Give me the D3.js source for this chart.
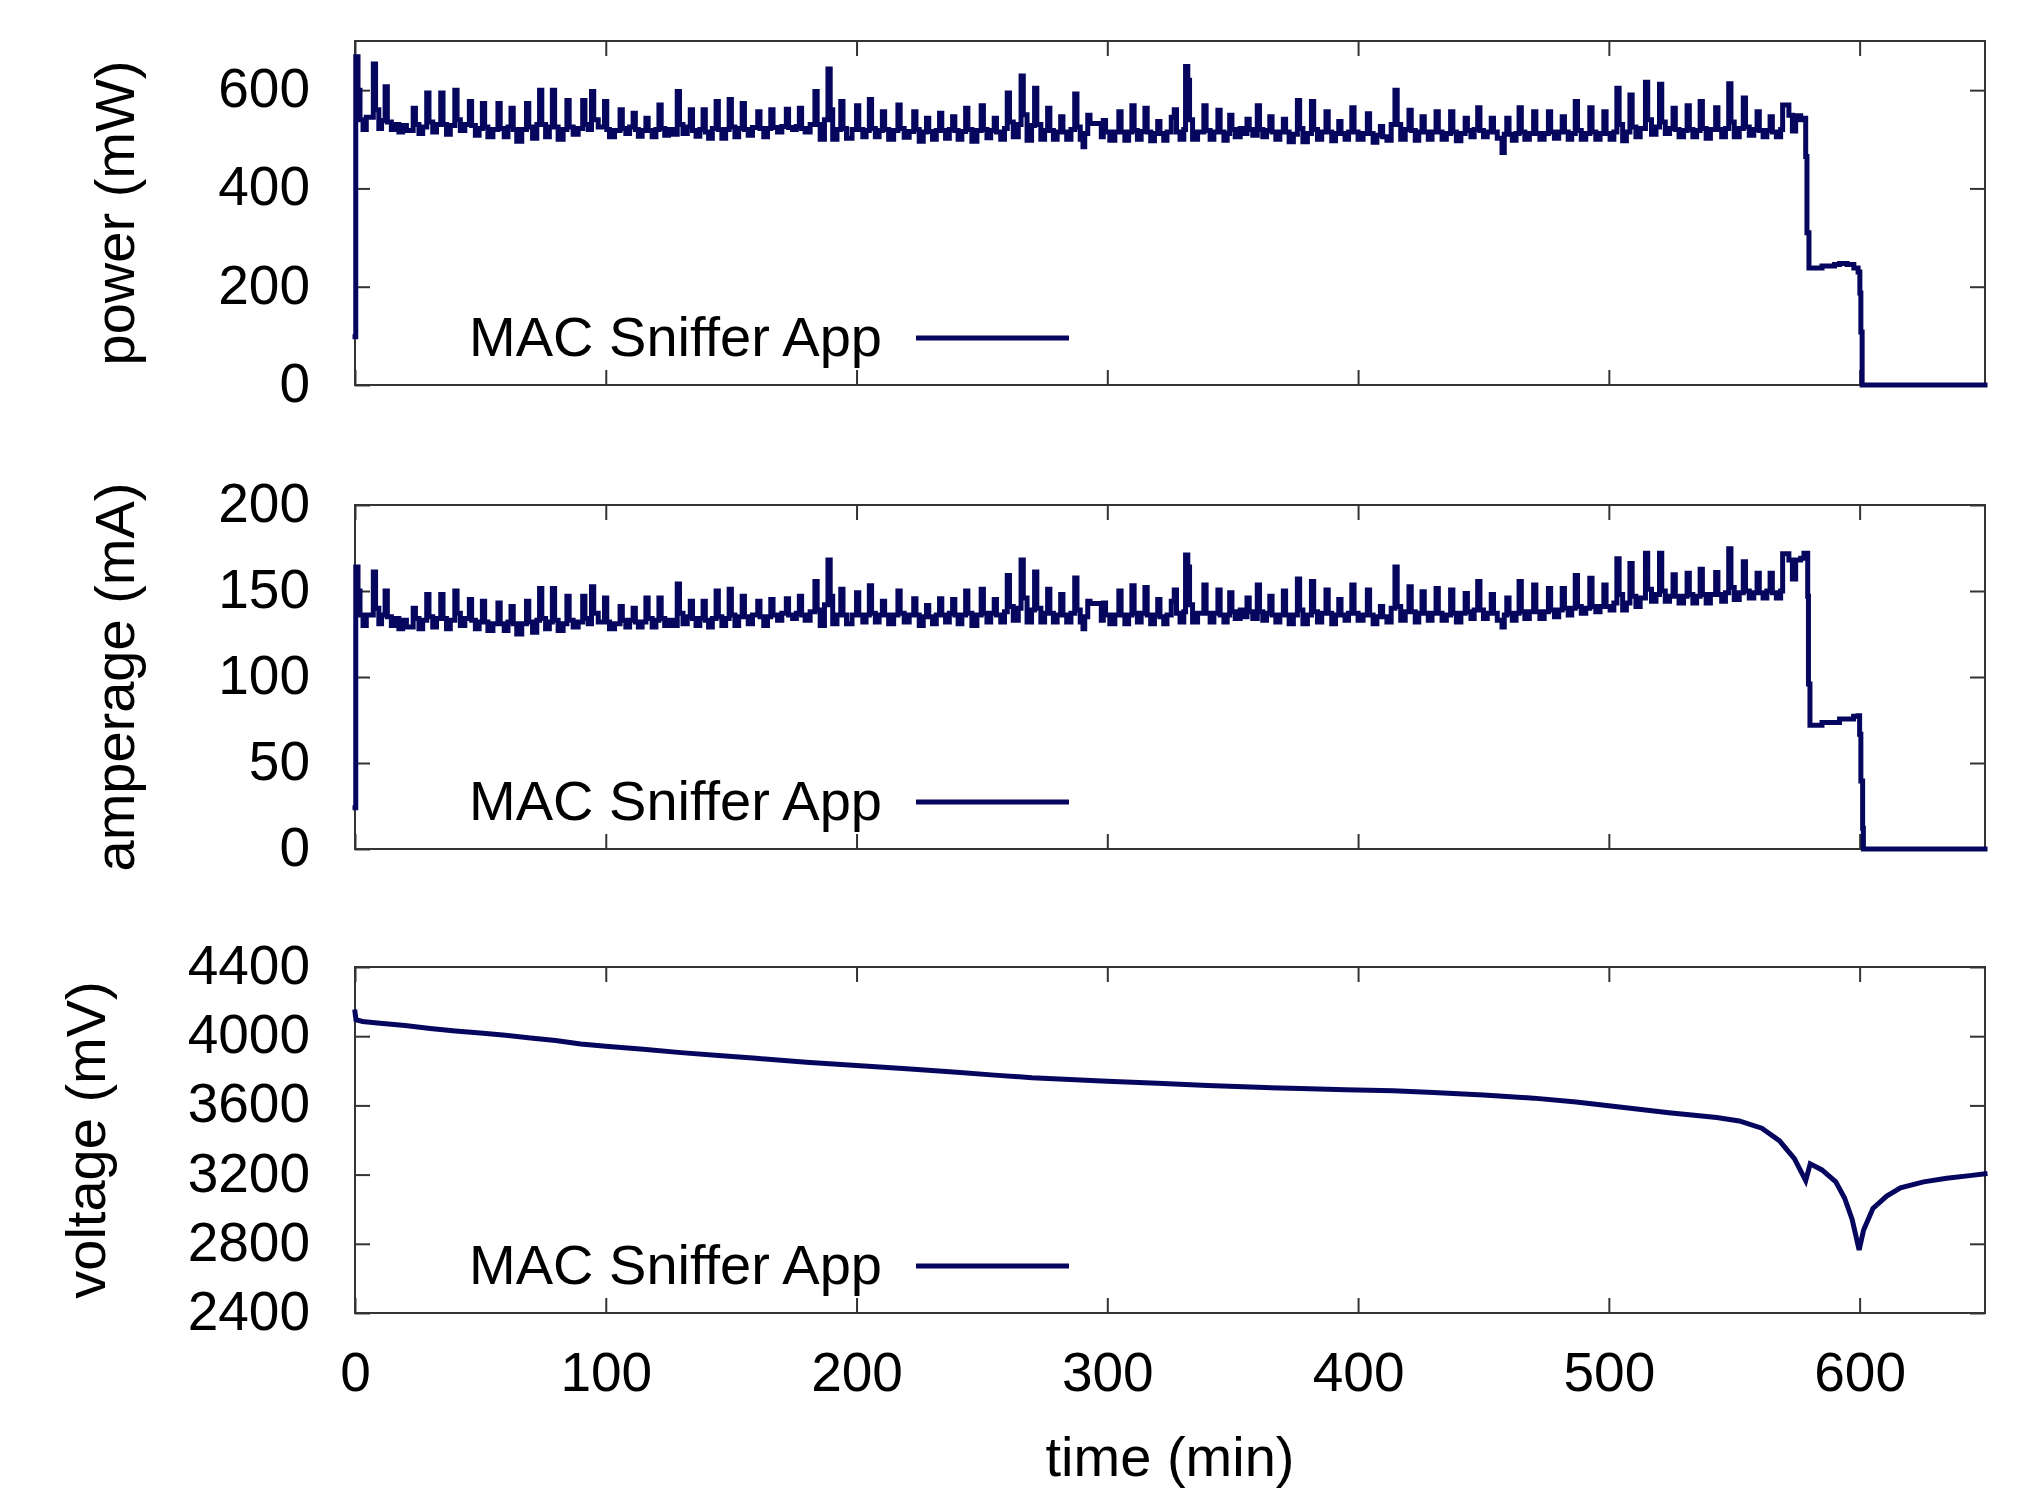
<!DOCTYPE html>
<html>
<head>
<meta charset="utf-8">
<script src="https://cdn.jsdelivr.net/npm/d3@7"></script>
<style>
  body { margin: 0; background: #fff; }
  text { font-family: "Liberation Sans", Arial, Helvetica, sans-serif; }
</style>
</head>
<body>
<div id="chart"></div>
<script>
// Data: [time (min), value]
const seriesName = "MAC Sniffer App";

const timeTicks = [0, 100, 200, 300, 400, 500, 600];
const powerTicks = [0, 200, 400, 600];
const ampTicks = [0, 50, 100, 150, 200];
const voltTicks = [2400, 2800, 3200, 3600, 4000, 4400];

const power = [
  [0, 98], [0.3, 668], [1.2, 600], [2.0, 540], [3.2, 520], [4.5, 545],
  [7.3, 653], [8.2, 560], [9.5, 522], [10.6, 538],
  [12.0, 607], [12.9, 535], [14.5, 520], [16, 530], [17.5, 515], [19, 528], [20.5, 518],
  [23.2, 563], [24.1, 530], [25.5, 512], [27, 525],
  [28.6, 594], [29.5, 535], [31, 515], [32.5, 530],
  [34.2, 594], [35.1, 530], [36.5, 510], [38, 528],
  [39.8, 600], [40.7, 540], [42, 518], [43.8, 530],
  [45.6, 577], [46.5, 528], [48, 508], [49.5, 522],
  [50.8, 573], [51.7, 525], [53, 505], [55, 520],
  [57.0, 573], [57.9, 522], [59.5, 505], [61, 525],
  [62.2, 563], [63.1, 520], [64.5, 496], [66.5, 520],
  [68.4, 573], [69.3, 525], [70.8, 502], [72.5, 530],
  [73.6, 600], [74.5, 530], [76, 505], [77.5, 525],
  [78.7, 600], [79.6, 525], [81, 500], [83, 520],
  [84.5, 579], [85.4, 525], [87, 510], [89, 522],
  [90.8, 579], [91.7, 530], [93, 520],
  [94.3, 597], [95.2, 540], [97, 525],
  [99.5, 577], [100.4, 520], [101.5, 505], [103.5, 518],
  [105.7, 560], [106.6, 522], [108, 512], [109.5, 525],
  [110.9, 553], [111.8, 520], [113, 506], [114.5, 518],
  [116, 543], [116.9, 518], [118.5, 505], [120, 520],
  [121.2, 570], [122.1, 522], [123.5, 508], [125, 520], [126.8, 510],
  [128.5, 597], [129.4, 530], [130.8, 512], [132.5, 525],
  [133.7, 560], [134.6, 518], [136, 506], [137.5, 520],
  [138.8, 560], [139.7, 515], [141, 502], [142.5, 522],
  [144, 577], [144.9, 520], [146.3, 502], [147.8, 520],
  [149.2, 581], [150.1, 525], [151.5, 505], [153, 522],
  [154.4, 573], [155.3, 520], [156.8, 508], [158.5, 524],
  [160.6, 556], [161.5, 522], [163, 505], [164.5, 522],
  [165.8, 560], [166.7, 524], [168.5, 515], [170.2, 526],
  [172, 561], [172.9, 524], [174.5, 520], [176, 526],
  [177.2, 563], [178.1, 522], [179.5, 515], [181.5, 530],
  [183.4, 597], [184.3, 530], [185.5, 500], [187.2, 540],
  [188.6, 643], [189.5, 560], [190.5, 500], [192.2, 520],
  [193.7, 577], [194.6, 522], [196, 502], [198.2, 520],
  [200, 568], [200.9, 520], [202.5, 505], [203.8, 518],
  [205.1, 581], [206, 522], [207.5, 505], [209, 518],
  [210.3, 556], [211.2, 520], [212.8, 500], [214.8, 518],
  [216.5, 570], [217.4, 522], [219, 504], [221, 516],
  [222.8, 556], [223.7, 520], [225, 496], [226.6, 515],
  [227.9, 543], [228.8, 516], [230.3, 500], [231.8, 518],
  [233.1, 553], [234, 518], [235.5, 502], [237, 520],
  [238.3, 546], [239.2, 518], [240.5, 500], [242, 516],
  [243.5, 563], [244.4, 520], [246, 496], [248, 518],
  [249.7, 568], [250.6, 520], [252, 503], [253.5, 518],
  [254.9, 543], [255.8, 515], [257.5, 500], [259, 522],
  [260.1, 594], [261, 535], [262.5, 505], [264.5, 530],
  [265.6, 629], [266.5, 550], [268, 498], [269.8, 528],
  [271, 604], [271.9, 530], [273.5, 500], [275, 518],
  [276.2, 563], [277.1, 518], [278.5, 500], [280, 515],
  [281.4, 546], [282.3, 515], [283.8, 500], [285.5, 520],
  [287, 592], [287.9, 525], [289.2, 500], [290.3, 485], [291, 512],
  [292.2, 549], [293.1, 532], [297.6, 505], [298.4, 538], [299.3, 515], [301, 498], [303, 515],
  [304.6, 556], [305.5, 515], [307, 498], [308.5, 515],
  [309.8, 568], [310.7, 518], [312, 500], [313.5, 516],
  [315, 563], [315.9, 515], [317.3, 497], [318.8, 512],
  [320.1, 536], [321, 512], [322.5, 498], [323.8, 515],
  [325.5, 545], [326.7, 560], [327.6, 515], [329, 500], [330.5, 520],
  [331.2, 648], [332.1, 620], [332.8, 540], [334, 500], [336, 515],
  [338.5, 568], [339.4, 518], [341, 500], [342.5, 515],
  [344.1, 559], [345, 515], [346.5, 498], [347.8, 512],
  [348.8, 549], [349.7, 520], [351, 505], [353, 522], [354.5, 512],
  [355.7, 541], [356.6, 520], [358, 508],
  [359.8, 568], [360.7, 520], [362, 505], [363.5, 518],
  [364.8, 546], [365.7, 515], [367.2, 500], [368.8, 515],
  [370.2, 541], [371.1, 515], [372.5, 495], [374.2, 510],
  [375.8, 579], [376.7, 522], [378, 495], [379.8, 512],
  [381.4, 577], [382.3, 520], [383.8, 500], [385.5, 515],
  [387.2, 556], [388.1, 515], [389.5, 497], [391, 512],
  [392.3, 536], [393.2, 512], [394.8, 500], [396.2, 515],
  [397.5, 564], [398.4, 515], [400, 500], [402, 512],
  [403.7, 552], [404.6, 512], [406, 494], [407.5, 508],
  [408.9, 526], [409.8, 505], [411.5, 498], [413.2, 530],
  [414.7, 600], [415.6, 530], [417, 500], [418.8, 520],
  [420.3, 559], [421.2, 518], [422.8, 498], [424.2, 515],
  [425.5, 546], [426.4, 515], [428, 500], [429.5, 515],
  [431.1, 556], [432, 515], [433.5, 500], [435.2, 512],
  [436.9, 556], [437.8, 515], [439.2, 497], [441, 512],
  [442.7, 543], [443.6, 518], [445, 505], [446.3, 520],
  [447.7, 564], [448.6, 518], [450, 505], [451.5, 515],
  [453.1, 543], [454, 515], [455.5, 502], [457.4, 473], [458.3, 510], [459.3, 543], [460.2, 510], [461.5, 498], [463, 512],
  [464.2, 564], [465.1, 515], [466.5, 500], [468.3, 512],
  [470, 556], [470.9, 512], [472.5, 500], [474.2, 512],
  [475.9, 556], [476.8, 515], [478.3, 502], [480, 515],
  [481.4, 546], [482.3, 515], [483.8, 500], [485.2, 512],
  [486.6, 577], [487.5, 518], [489, 500], [490.8, 512],
  [492.4, 564], [493.3, 515], [494.8, 500], [496.5, 512],
  [498, 556], [498.9, 512], [500.5, 500], [502, 515],
  [503.2, 604], [504.1, 530], [505.5, 497], [507, 515],
  [508.4, 590], [509.3, 525], [510.8, 505], [512.5, 522],
  [514.6, 616], [515.5, 540], [517, 510], [518.8, 525],
  [520.2, 612], [521.1, 535], [522.5, 512], [524.2, 522],
  [525.6, 563], [526.5, 520], [528, 505], [529.8, 518],
  [531.2, 568], [532.1, 520], [533.5, 505], [535, 518],
  [536.4, 577], [537.3, 522], [538.8, 502], [540.5, 520],
  [542.6, 564], [543.5, 520], [545, 505], [546.5, 522],
  [547.8, 613], [548.7, 535], [550, 505], [552, 522],
  [553.6, 584], [554.5, 525], [556, 508], [557.8, 520],
  [559.1, 556], [560, 518], [561.5, 505], [563, 518],
  [564.3, 546], [565.2, 515], [566.8, 505], [568.5, 520],
  [569.3, 570], [571.8, 549], [573.2, 517], [574.5, 548], [576.5, 540], [577.8, 543],
  [578.5, 465], [579.0, 310], [579.8, 238], [585, 242], [590, 245], [592, 247],
  [595, 245], [597.7, 238], [599.4, 230], [600.1, 187], [600.5, 108], [601.0, 0], [650, 0]
];

const amperage = [
  [0, 24], [0.3, 164], [1.2, 150], [2.0, 136], [3.2, 130], [4.5, 136],
  [7.3, 161], [8.2, 140], [9.5, 131], [10.6, 136],
  [12.0, 150], [12.9, 135], [14.5, 130], [16, 134], [17.5, 128], [19, 133], [20.5, 129],
  [23.2, 140], [24.1, 134], [25.5, 128], [27, 133],
  [28.6, 148], [29.5, 135], [31, 129], [32.5, 134],
  [34.2, 148], [35.1, 134], [36.5, 128], [38, 133],
  [39.8, 150], [40.7, 137], [42, 130], [43.8, 134],
  [45.6, 145], [46.5, 133], [48, 128], [49.5, 132],
  [50.8, 144], [51.7, 132], [53, 127], [55, 131],
  [57.0, 143], [57.9, 131], [59.5, 127], [61, 132],
  [62.2, 141], [63.1, 131], [64.5, 125], [66.5, 131],
  [68.4, 144], [69.3, 132], [70.8, 126], [72.5, 133],
  [73.6, 151.5], [74.5, 134], [76, 128], [77.5, 132],
  [78.7, 151.5], [79.6, 133], [81, 127], [83, 131],
  [84.5, 147], [85.4, 133], [87, 129], [89, 132],
  [90.8, 147], [91.7, 134], [93, 131],
  [94.3, 152.5], [95.2, 137], [97, 132],
  [99.5, 146], [100.4, 132], [101.5, 128], [103.5, 131],
  [105.7, 141], [106.6, 133], [108, 129], [109.5, 133],
  [110.9, 140], [111.8, 132], [113, 129], [114.5, 132],
  [116, 146], [116.9, 134], [118.5, 129], [120, 133],
  [121.2, 146], [122.1, 134], [123.5, 130], [125, 133], [126.8, 130],
  [128.5, 154], [129.4, 137], [130.8, 131], [132.5, 135],
  [133.7, 144], [134.6, 134], [136, 130], [137.5, 134],
  [138.8, 144], [139.7, 133], [141, 129], [142.5, 134],
  [144, 150], [144.9, 135], [146.3, 130], [147.8, 134],
  [149.2, 151], [150.1, 136], [151.5, 130], [153, 135],
  [154.4, 147], [155.3, 135], [156.8, 131], [158.5, 136],
  [160.6, 144], [161.5, 135], [163, 130], [164.5, 135],
  [165.8, 145], [166.7, 136], [168.5, 133], [170.2, 137],
  [172, 145.5], [172.9, 136], [174.5, 134], [176, 137],
  [177.2, 147], [178.1, 136], [179.5, 133], [181.5, 138],
  [183.4, 155.5], [184.3, 139], [185.5, 130], [187.2, 142],
  [188.6, 168], [189.5, 147], [190.5, 131], [192.2, 136],
  [193.7, 151], [194.6, 136], [196, 131], [198.2, 136],
  [200, 149], [200.9, 136], [202.5, 132], [203.8, 136],
  [205.1, 153], [206, 137], [207.5, 132], [209, 136],
  [210.3, 144], [211.2, 136], [212.8, 131], [214.8, 136],
  [216.5, 150], [217.4, 137], [219, 132], [221, 136],
  [222.8, 145.5], [223.7, 136], [225, 130], [226.6, 135],
  [227.9, 141.5], [228.8, 135], [230.3, 131], [231.8, 136],
  [233.1, 145.5], [234, 136], [235.5, 132], [237, 137],
  [238.3, 145], [239.2, 136], [240.5, 131], [242, 136],
  [243.5, 150], [244.4, 137], [246, 130], [248, 136],
  [249.7, 151], [250.6, 137], [252, 132], [253.5, 137],
  [254.9, 145], [255.8, 136], [257.5, 132], [259, 138],
  [260.1, 159], [261, 141], [262.5, 133], [264.5, 140],
  [265.6, 168], [266.5, 146], [268, 132], [269.8, 139],
  [271, 161], [271.9, 140], [273.5, 132], [275, 137],
  [276.2, 151], [277.1, 137], [278.5, 132], [280, 136],
  [281.4, 148], [282.3, 136], [283.8, 132], [285.5, 137],
  [287, 157.5], [287.9, 139], [289.2, 132], [290.3, 128], [291, 135],
  [292.2, 144], [293.1, 142.8], [297.6, 133], [298.4, 143], [299.3, 136], [301, 131], [303, 136],
  [304.6, 150], [305.5, 136], [307, 131], [308.5, 136],
  [309.8, 153], [310.7, 137], [312, 132], [313.5, 137],
  [315, 152], [315.9, 136], [317.3, 131], [318.8, 136],
  [320.1, 145], [321, 135], [322.5, 131], [323.8, 136],
  [325.5, 144], [326.7, 150.6], [327.6, 137], [329, 132], [330.5, 138],
  [331.2, 171], [332.1, 164], [332.8, 142], [334, 132], [336, 137],
  [338.5, 153.5], [339.4, 137], [341, 132], [342.5, 137],
  [344.1, 150.6], [345, 136], [346.5, 132], [347.8, 136],
  [348.8, 149], [349.7, 138], [351, 134], [353, 139], [354.5, 135],
  [355.7, 146], [356.6, 138], [358, 134],
  [359.8, 153.5], [360.7, 138], [362, 133], [363.5, 137],
  [364.8, 147], [365.7, 136], [367.2, 132], [368.8, 136],
  [370.2, 150], [371.1, 136], [372.5, 131], [374.2, 136],
  [375.8, 157], [376.7, 139], [378, 131], [379.8, 136],
  [381.4, 155.5], [382.3, 138], [383.8, 132], [385.5, 137],
  [387.2, 150.6], [388.1, 137], [389.5, 131], [391, 136],
  [392.3, 145], [393.2, 136], [394.8, 133], [396.2, 137],
  [397.5, 153.5], [398.4, 137], [400, 133], [402, 136],
  [403.7, 150.6], [404.6, 136], [406, 131], [407.5, 135],
  [408.9, 141], [409.8, 135], [411.5, 132], [413.2, 140],
  [414.7, 164], [415.6, 141], [417, 133], [418.8, 138],
  [420.3, 152.5], [421.2, 138], [422.8, 132], [424.2, 137],
  [425.5, 149.6], [426.4, 137], [428, 133], [429.5, 137],
  [431.1, 151.5], [432, 137], [433.5, 133], [435.2, 136],
  [436.9, 150.6], [437.8, 137], [439.2, 132], [441, 137],
  [442.7, 148.6], [443.6, 138], [445, 134], [446.3, 139],
  [447.7, 155.5], [448.6, 139], [450, 134], [451.5, 137],
  [453.1, 148], [454, 137], [455.5, 133], [457.4, 129], [458.3, 136], [459.3, 146], [460.2, 137], [461.5, 133], [463, 137],
  [464.2, 155.5], [465.1, 138], [466.5, 134], [468.3, 138],
  [470, 153.5], [470.9, 138], [472.5, 134], [474.2, 138],
  [475.9, 151.5], [476.8, 139], [478.3, 135], [480, 139],
  [481.4, 151.5], [482.3, 140], [483.8, 136], [485.2, 140],
  [486.6, 159], [487.5, 141], [489, 137], [490.8, 140],
  [492.4, 157.4], [493.3, 141], [494.8, 138], [496.5, 141],
  [498, 153.5], [498.9, 141], [500.5, 139], [502, 143],
  [503.2, 168.7], [504.1, 148], [505.5, 139], [507, 143],
  [508.4, 166], [509.3, 147], [510.8, 141], [512.5, 146],
  [514.6, 172], [515.5, 151], [517, 144], [518.8, 148],
  [520.2, 172], [521.1, 150], [522.5, 144], [524.2, 147],
  [525.6, 159.4], [526.5, 147], [528, 143], [529.8, 147],
  [531.2, 160.3], [532.1, 148], [533.5, 143], [535, 147],
  [536.4, 162.6], [537.3, 148], [538.8, 143], [540.5, 148],
  [542.6, 160.7], [543.5, 148], [545, 144], [546.5, 149],
  [547.8, 174.5], [548.7, 152], [550, 145], [552, 149],
  [553.6, 167], [554.5, 150], [556, 146], [557.8, 149],
  [559.1, 160.3], [560, 149], [561.5, 146], [563, 150],
  [564.3, 160.3], [565.2, 149], [566.8, 146], [568.5, 150],
  [569.3, 171.6], [571.8, 168], [573.2, 157], [574.5, 168], [576.5, 169], [577.8, 172],
  [579.3, 147], [579.6, 96], [580.2, 72], [585, 73.5], [592, 75.6], [597.6, 77.2],
  [599.4, 77.5], [600, 66.7], [600.5, 39.5], [601.2, 12], [601.5, 0], [650, 0]
];

const voltage = [
  [0, 4140], [0.4, 4095], [3, 4085], [10, 4075], [20, 4062], [30, 4045], [40, 4030],
  [50, 4018], [60, 4005], [70, 3990], [80, 3975], [90, 3955], [100, 3942], [115, 3925],
  [130, 3905], [145, 3888], [160, 3872], [180, 3850], [200, 3830], [220, 3812],
  [240, 3792], [255, 3775], [270, 3760], [285, 3750], [300, 3740], [320, 3728],
  [340, 3715], [360, 3705], [377, 3697], [395, 3690], [414, 3684], [430, 3675],
  [450, 3660], [470, 3642], [487, 3620], [506, 3588], [524, 3558], [543, 3530],
  [552, 3510], [561, 3468], [568, 3396], [574, 3292], [578.5, 3165], [580.3, 3262],
  [585, 3227], [590.5, 3158], [594, 3065], [597, 2942], [599.8, 2765], [601.6, 2880],
  [605.3, 3004], [610.8, 3076], [616.3, 3123], [625.5, 3158], [634.7, 3179],
  [643.9, 3194], [650, 3205]
];

// Layout
const WIDTH = 2024, HEIGHT = 1490;
const PLOT_LEFT = 355, PLOT_RIGHT = 1985;
const TICK_LEN = 15;
const LINE_COLOR = "#06065e";
const LINE_WIDTH = 5;
const FONT_SIZE = 55;

const panels = [
  {top: 41,  bottom: 385,  domain: [0, 700],     ticks: powerTicks, data: power,    label: "power (mW)",    labelX: 134, step: true},
  {top: 505, bottom: 849,  domain: [0, 200],     ticks: ampTicks,   data: amperage, label: "amperage (mA)", labelX: 134, step: true},
  {top: 967, bottom: 1313, domain: [2400, 4400], ticks: voltTicks,  data: voltage,  label: "voltage (mV)",  labelX: 105, step: false}
];

const svg = d3.select("#chart")
  .append("svg")
    .attr("width", WIDTH)
    .attr("height", HEIGHT)
    .style("background", "#fff");

const x = d3.scaleLinear().domain([0, 650]).range([PLOT_LEFT, PLOT_RIGHT]);

function styleAxis(g) {
  g.select(".domain").remove();
  g.attr("font-size", FONT_SIZE)
   .attr("font-family", "'Liberation Sans', Arial, Helvetica, sans-serif");
  g.selectAll(".tick line").attr("stroke", "#333").attr("stroke-width", 2);
  g.selectAll(".tick text").attr("fill", "#000");
}

panels.forEach((p, i) => {
  const y = d3.scaleLinear().domain(p.domain).range([p.bottom, p.top]);
  const g = svg.append("g");
  const last = i === panels.length - 1;

  // ticks on all four sides, pointing inward
  g.append("g")
    .attr("transform", `translate(${PLOT_LEFT},0)`)
    .call(d3.axisLeft(y).tickValues(p.ticks).tickFormat(d3.format("d"))
      .tickSize(-TICK_LEN).tickPadding(45))
    .call(styleAxis)
    .selectAll(".tick text").attr("dy", "0.3em");

  g.append("g")
    .attr("transform", `translate(${PLOT_RIGHT},0)`)
    .call(d3.axisRight(y).tickValues(p.ticks).tickSize(-TICK_LEN).tickFormat(""))
    .call(styleAxis);

  g.append("g")
    .attr("transform", `translate(0,${p.top})`)
    .call(d3.axisTop(x).tickValues(timeTicks).tickSize(-TICK_LEN).tickFormat(""))
    .call(styleAxis);

  const bottomAxis = d3.axisBottom(x).tickValues(timeTicks).tickSize(-TICK_LEN).tickPadding(39)
    .tickFormat(last ? d3.format("d") : "");
  g.append("g")
    .attr("transform", `translate(0,${p.bottom})`)
    .call(bottomAxis)
    .call(styleAxis);

  // frame
  g.append("rect")
    .attr("x", PLOT_LEFT)
    .attr("y", p.top)
    .attr("width", PLOT_RIGHT - PLOT_LEFT)
    .attr("height", p.bottom - p.top)
    .attr("fill", "none")
    .attr("stroke", "#333")
    .attr("stroke-width", 2);

  // series line
  const line = d3.line()
    .x(d => x(d[0]))
    .y(d => y(d[1]))
    .curve(p.step ? d3.curveStepAfter : d3.curveLinear);

  g.append("path")
    .datum(p.data)
    .attr("d", line)
    .attr("fill", "none")
    .attr("stroke", LINE_COLOR)
    .attr("stroke-width", LINE_WIDTH)
    .attr("stroke-linejoin", "miter")
    .attr("stroke-linecap", "square");

  // y label
  g.append("text")
    .attr("transform", `translate(${p.labelX},${(p.top + p.bottom) / 2}) rotate(-90)`)
    .attr("text-anchor", "middle")
    .attr("font-size", 56)
    .attr("fill", "#000")
    .text(p.label);

  // legend
  g.append("text")
    .attr("x", 882)
    .attr("y", p.bottom - 29)
    .attr("text-anchor", "end")
    .attr("font-size", 56)
    .attr("fill", "#000")
    .text(seriesName);

  g.append("line")
    .attr("x1", 916)
    .attr("x2", 1069)
    .attr("y1", p.bottom - 47)
    .attr("y2", p.bottom - 47)
    .attr("stroke", LINE_COLOR)
    .attr("stroke-width", LINE_WIDTH);
});

// x axis title
svg.append("text")
  .attr("x", (PLOT_LEFT + PLOT_RIGHT) / 2)
  .attr("y", 1476)
  .attr("text-anchor", "middle")
  .attr("font-size", 56)
  .attr("fill", "#000")
  .text("time (min)");
</script>
</body>
</html>
